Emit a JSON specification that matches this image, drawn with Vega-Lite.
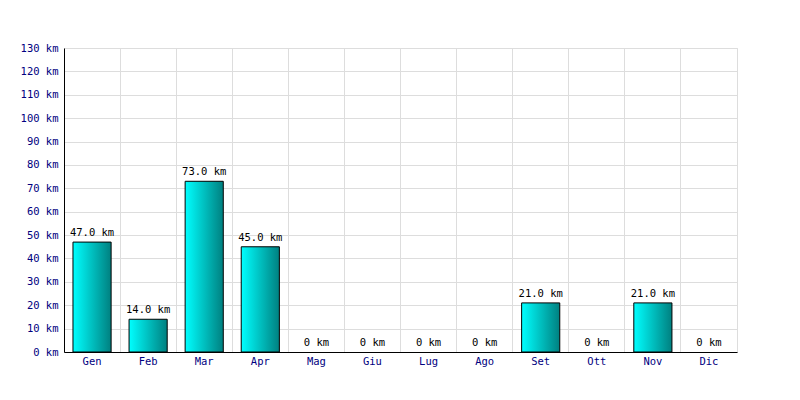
{
  "$schema": "https://vega.github.io/schema/vega-lite/v6.json",
  "width": 673,
  "height": 304,
  "autosize": "none",
  "padding": {"left": 64, "top": 48, "right": 63, "bottom": 48},
  "background": "white",
  "config": {
    "view": {"stroke": "#dddddd", "strokeWidth": 1},
    "font": "DejaVu Sans Mono"
  },
  "data": {
    "values": [
      {"mese": "Gen", "km": 47, "label": "47.0 km"},
      {"mese": "Feb", "km": 14, "label": "14.0 km"},
      {"mese": "Mar", "km": 73, "label": "73.0 km"},
      {"mese": "Apr", "km": 45, "label": "45.0 km"},
      {"mese": "Mag", "km": 0, "label": "0 km"},
      {"mese": "Giu", "km": 0, "label": "0 km"},
      {"mese": "Lug", "km": 0, "label": "0 km"},
      {"mese": "Ago", "km": 0, "label": "0 km"},
      {"mese": "Set", "km": 21, "label": "21.0 km"},
      {"mese": "Ott", "km": 0, "label": "0 km"},
      {"mese": "Nov", "km": 21, "label": "21.0 km"},
      {"mese": "Dic", "km": 0, "label": "0 km"}
    ]
  },
  "encoding": {
    "y": {
      "field": "km",
      "type": "quantitative",
      "scale": {"domain": [0, 130], "nice": false},
      "axis": {
        "title": null,
        "values": [0, 10, 20, 30, 40, 50, 60, 70, 80, 90, 100, 110, 120, 130],
        "labelExpr": "datum.value + ' km'",
        "labelFont": "DejaVu Sans Mono",
        "labelFontSize": 10.5,
        "labelColor": "#000080",
        "labelPadding": 6,
        "ticks": false,
        "grid": true,
        "gridColor": "#dddddd",
        "domainColor": "black",
        "domainWidth": 1
      }
    }
  },
  "resolve": {"axis": {"x": "independent"}},
  "layer": [
    {
      "mark": {
        "type": "bar",
        "stroke": "black",
        "strokeWidth": 1,
        "color": {
          "gradient": "linear",
          "x1": 0, "x2": 1, "y1": 0, "y2": 0,
          "stops": [
            {"offset": 0, "color": "#00ffff"},
            {"offset": 1, "color": "#008080"}
          ]
        }
      },
      "transform": [{"filter": "datum.km > 0"}],
      "encoding": {
        "x": {
          "field": "mese",
          "type": "nominal",
          "sort": null,
          "scale": {
            "domain": ["Gen", "Feb", "Mar", "Apr", "Mag", "Giu", "Lug", "Ago", "Set", "Ott", "Nov", "Dic"],
            "paddingInner": 0.32,
            "paddingOuter": 0.16
          },
          "axis": {
            "title": null,
            "orient": "top",
            "labels": false,
            "ticks": false,
            "domain": false,
            "grid": true,
            "bandPosition": 1.2353,
            "gridColor": "#dddddd"
          }
        }
      }
    },
    {
      "mark": {
        "type": "text",
        "baseline": "bottom",
        "dy": -4,
        "font": "DejaVu Sans Mono",
        "fontSize": 10.5,
        "color": "black"
      },
      "encoding": {
        "x": {
          "field": "mese",
          "type": "nominal",
          "sort": null,
          "axis": {
            "title": null,
            "orient": "bottom",
            "labelAngle": 0,
            "labelFont": "DejaVu Sans Mono",
            "labelFontSize": 10.5,
            "labelColor": "#000080",
            "labelPadding": 4,
            "ticks": false,
            "grid": false,
            "domainColor": "black",
            "domainWidth": 1
          }
        },
        "text": {"field": "label"}
      }
    }
  ]
}
